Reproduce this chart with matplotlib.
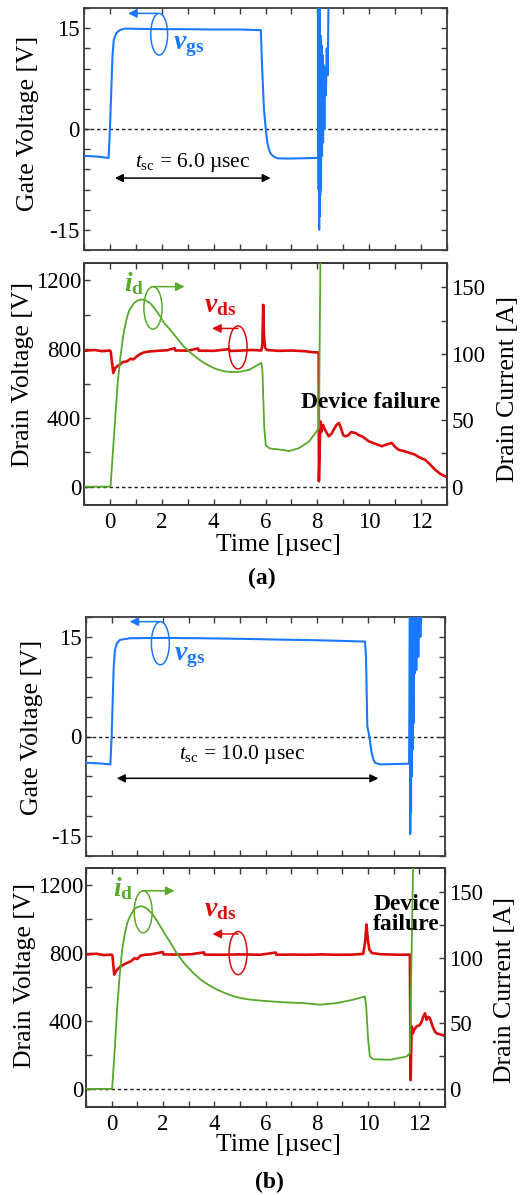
import matplotlib
matplotlib.use("Agg")
import matplotlib.pyplot as plt
from matplotlib.patches import Ellipse
from matplotlib.ticker import MultipleLocator

plt.rcParams["font.family"] = ["Liberation Serif", "DejaVu Serif"]
plt.rcParams["mathtext.fontset"] = "custom"
plt.rcParams["mathtext.rm"] = "Liberation Serif"
plt.rcParams["mathtext.it"] = "Liberation Serif:italic"
plt.rcParams["mathtext.bf"] = "Liberation Serif:bold"
plt.rcParams["mathtext.bfit"] = "Liberation Serif:italic:bold"
plt.rcParams["axes.unicode_minus"] = False

BLUE = "#1a78ff"
RED = "#dc0b0b"
GREEN = "#58a82a"

# ---- (a) t_sc = 6.0 usec : (time [usec], value)
vgs_a = [(-1.0, -4.0), (-0.5, -4.1), (-0.05, -4.3), (0.0, 0.0), (0.1, 11.0), (0.15, 13.3),
         (0.25, 14.3), (0.4, 14.75), (0.6, 14.95), (1.0, 14.9), (2.0, 14.85), (3.0, 14.85),
         (4.0, 14.8), (5.0, 14.8), (5.82, 14.7), (5.86, 10.0), (5.94, 3.0), (6.01, 0.0),
         (6.07, -2.0), (6.13, -3.0), (6.2, -3.7), (6.32, -4.1), (6.45, -4.35), (6.9, -4.4),
         (7.5, -4.35), (8.03, -4.3),
         (8.04, 19), (8.05, -9), (8.06, 19), (8.07, -15), (8.08, 19), (8.09, -13), (8.10, 17),
         (8.11, -10), (8.12, 13.9), (8.14, -9), (8.16, 12.5), (8.18, -4), (8.20, 11), (8.22, -2),
         (8.24, 9.5), (8.27, 0), (8.30, 9), (8.33, 5), (8.36, 12), (8.40, 8), (8.43, 19)]

vds_a = [(-1.0, 790), (-0.6, 795), (-0.3, 788), (0.0, 792), (0.03, 785), (0.13, 661), (0.2, 690),
         (0.28, 700), (0.4, 712), (0.5, 725), (0.66, 729), (0.8, 745), (0.9, 740), (1.04, 758),
         (1.15, 770), (1.31, 781), (1.5, 786), (1.81, 790), (2.2, 793), (2.5, 806), (2.52, 792),
         (3.0, 791), (3.4, 804), (3.42, 791), (4.0, 790), (4.6, 800), (4.62, 789), (5.1, 792),
         (5.5, 795), (5.84, 792), (5.88, 830), (5.91, 1057), (5.94, 880), (5.98, 810), (6.05, 795),
         (6.5, 790), (7.0, 792), (7.5, 788), (7.9, 781), (8.05, 781), (8.06, 33), (8.10, 290),
         (8.12, 379), (8.16, 320), (8.22, 360), (8.3, 330), (8.44, 294), (8.55, 310), (8.63, 332),
         (8.74, 360), (8.83, 371), (8.9, 345), (9.0, 300), (9.08, 294), (9.2, 300), (9.3, 318),
         (9.47, 313), (9.6, 300), (9.72, 294), (9.85, 280), (9.98, 265), (10.2, 252), (10.49, 236),
         (10.7, 248), (10.87, 255), (11.0, 232), (11.13, 216), (11.4, 205), (11.77, 187),
         (11.95, 170), (12.15, 158), (12.35, 130), (12.54, 100), (12.75, 75), (12.92, 62), (13.0, 55)]

id_a = [(-1.0, 0), (0.0, 0), (0.026, 0.5), (0.1, 22), (0.218, 55.6), (0.3, 78), (0.409, 98.2),
        (0.5, 112), (0.55, 118), (0.665, 128), (0.75, 133), (0.92, 138), (1.05, 140), (1.24, 141),
        (1.4, 140), (1.56, 138), (1.75, 133.5), (1.94, 128), (2.1, 123), (2.33, 118),
        (2.6, 111.5), (2.84, 105.7), (3.1, 101), (3.35, 97), (3.6, 93.5), (3.86, 90.7),
        (4.1, 88.5), (4.37, 87), (4.6, 86.4), (4.89, 86.2), (5.15, 87), (5.40, 88.2),
        (5.6, 90.5), (5.84, 93.2), (5.88, 88), (5.95, 45), (6.01, 31), (6.17, 28.8), (6.68, 27.6),
        (6.91, 26.8), (7.29, 29), (7.68, 34), (8.06, 44), (8.12, 175)]

# ---- (b) t_sc = 10.0 usec
vgs_b = [(-1.0, -3.95), (-0.5, -4.05), (-0.05, -4.2), (0.0, 0.0), (0.08, 10.5), (0.13, 13.05),
         (0.2, 14.0), (0.32, 14.55), (0.71, 14.8), (2.0, 14.85), (3.5, 14.8), (5.2, 14.7),
         (6.5, 14.6), (8.0, 14.5), (9.0, 14.4), (9.88, 14.3), (9.92, 12.0), (9.97, 1.55),
         (10.05, 0.0), (10.14, -2.45), (10.2, -3.4), (10.27, -3.95), (10.46, -4.2), (11.0, -4.15),
         (11.6, -4.1),
         (11.63, 19), (11.645, -14.7), (11.66, 19), (11.675, -11.5), (11.69, 19), (11.70, -6),
         (11.72, 19), (11.735, -2), (11.75, 19), (11.77, 2), (11.79, 19), (11.82, 9.5),
         (11.85, 19), (11.88, 10), (11.92, 19), (11.96, 12), (12.0, 19), (12.04, 15), (12.08, 19)]

vds_b = [(-1.0, 791), (-0.6, 796), (-0.3, 788), (0.0, 791), (0.03, 786), (0.1, 673), (0.2, 700),
         (0.35, 722), (0.5, 735), (0.74, 751), (0.9, 770), (1.0, 765), (1.13, 785), (1.3, 790),
         (1.52, 792), (2.0, 806), (2.02, 792), (2.6, 791), (3.1, 793), (3.6, 804), (3.62, 791),
         (4.2, 790), (5.0, 792), (5.8, 790), (6.4, 803), (6.42, 790), (7.0, 791), (7.6, 790),
         (8.2, 792), (8.8, 790), (9.4, 791), (9.81, 795), (9.88, 860), (9.94, 968), (9.99, 880),
         (10.05, 820), (10.15, 800), (10.5, 793), (11.0, 791), (11.3, 790), (11.63, 791),
         (11.66, 53), (11.7, 368), (11.75, 328), (11.8, 350), (11.89, 368), (12.02, 378),
         (12.1, 400), (12.15, 427), (12.22, 446), (12.28, 407), (12.35, 425), (12.41, 417),
         (12.52, 368), (12.6, 340), (12.67, 328), (12.8, 322), (12.93, 318), (13.0, 310)]

id_b = [(-1.0, 0), (0.0, 0), (0.02, 0.5), (0.12, 30), (0.22, 62.9), (0.31, 86), (0.41, 106),
        (0.5, 117), (0.61, 126.5), (0.7, 131), (0.87, 136.7), (1.0, 138.5), (1.13, 139.3),
        (1.26, 138.8), (1.39, 137.2), (1.58, 133.5), (1.78, 127.8), (2.05, 119), (2.3, 111.2),
        (2.55, 103), (2.82, 96), (3.15, 89), (3.47, 83.3), (3.8, 79), (4.12, 75.6), (4.45, 72.8),
        (4.77, 70.5), (5.1, 69), (5.42, 68), (6.0, 67), (6.72, 66), (7.47, 65.4), (8.12, 64.2),
        (8.77, 65.4), (9.42, 68), (9.88, 70.5), (9.93, 62), (10.0, 38), (10.07, 24.7),
        (10.2, 22.6), (10.86, 22.2), (11.5, 24.7), (11.63, 27.2), (11.76, 175)]

t_sc = ["6.0", "10.0"]
labels = ["(a)", "(b)"]

SPINE = "#3a3a3a"
TICK_FS = 16.5
LABEL_FS = 18.5


def xy(pairs):
    t, v = zip(*pairs)
    return list(t), list(v)


def style_x(ax, show_labels):
    ax.set_xlim(-1, 13)
    ax.xaxis.set_major_locator(MultipleLocator(2))
    ax.xaxis.set_minor_locator(MultipleLocator(1))
    ax.tick_params(axis="x", which="both", direction="in", top=True, bottom=True,
                   length=4.5, width=1, color=SPINE, labelsize=TICK_FS, pad=5,
                   labelbottom=show_labels)
    for s in ax.spines.values():
        s.set_color(SPINE)
        s.set_linewidth(1.3)


def gate_panel(ax, data, tsc_text, tsc_span, tsc_y, tsc_text_xy, ell, vlab):
    t, v = xy(data)
    ax.plot(t, v, color=BLUE, lw=1.5, zorder=3)
    ax.axhline(0, color="#222222", lw=1, ls=(0, (2.5, 2)), zorder=2)
    ax.set_ylim(-18, 18)
    style_x(ax, False)
    ax.set_yticks([-15, 0, 15])
    ax.yaxis.set_minor_locator(MultipleLocator(3))
    ax.tick_params(axis="y", which="both", direction="in", left=True, right=True,
                   length=4.5, width=1, color=SPINE, labelsize=TICK_FS, pad=3)
    ax.set_ylabel("Gate Voltage [V]", fontsize=LABEL_FS, va="center")

    # v_gs marker: ellipse + arrow to the left axis
    ex, ey, ew, eh = ell
    ax.add_patch(Ellipse((ex, ey), ew, eh, fill=False, ec=BLUE, lw=1.1, zorder=4))
    ax.annotate("", xy=(0.7, ey + eh / 2), xytext=(ex - 0.05, ey + eh / 2),
                arrowprops=dict(arrowstyle="-|>", color=BLUE, lw=1.1, shrinkA=0,
                                shrinkB=0, mutation_scale=13))
    ax.text(vlab[0], vlab[1], r"$\mathbfit{v}_{\mathbf{gs}}$", color=BLUE, fontsize=20,
            ha="center", va="center")

    # short-circuit duration
    ax.annotate("", xy=(tsc_span[0], tsc_y), xytext=(tsc_span[1], tsc_y),
                arrowprops=dict(arrowstyle="<|-|>", color="black", lw=1.1, shrinkA=0,
                                shrinkB=0, mutation_scale=12))
    ax.text(tsc_text_xy[0], tsc_text_xy[1], r"$t_{\mathrm{sc}}$ = " + tsc_text + " µsec",
            fontsize=15.5, ha="center", va="center")


def drain_panel(ax, vds, idd, id_ell, id_lab, vds_ell, vds_lab, fail_xy, fail_text, fail_fs):
    ax2 = ax.twinx()
    t, v = xy(vds)
    ax.plot(t, v, color=RED, lw=1.9, zorder=3)
    t, i = xy(idd)
    ax2.plot(t, i, color=GREEN, lw=1.3, zorder=3)
    ax.axhline(0, color="#222222", lw=1, ls=(0, (2.5, 2)), zorder=2)

    ax.set_ylim(-105, 1300)
    ax2.set_ylim(-13.8, 168.4)
    style_x(ax, True)
    ax.yaxis.set_major_locator(MultipleLocator(400))
    ax.yaxis.set_minor_locator(MultipleLocator(200))
    ax.tick_params(axis="y", which="both", direction="in", length=4.5, width=1,
                   color=SPINE, labelsize=TICK_FS, pad=2)
    ax2.yaxis.set_major_locator(MultipleLocator(50))
    ax2.yaxis.set_minor_locator(MultipleLocator(25))
    ax2.tick_params(axis="y", which="both", direction="in", length=4.5, width=1,
                    color=SPINE, labelsize=TICK_FS, pad=3)
    for s in ax2.spines.values():
        s.set_color(SPINE)
        s.set_linewidth(1.3)

    ax.set_xlabel("Time [µsec]", fontsize=LABEL_FS, va="center")
    ax.set_ylabel("Drain Voltage [V]", fontsize=LABEL_FS, va="center")
    ax2.set_ylabel("Drain Current [A]", fontsize=LABEL_FS)
    ax2.yaxis.label.set_va("center")

    # i_d marker (right axis)
    ex, ey, ew, eh = id_ell
    ax2.add_patch(Ellipse((ex, ey), ew, eh, fill=False, ec=GREEN, lw=1.1, zorder=4))
    ax2.annotate("", xy=(ex + 1.22, ey + eh / 2), xytext=(ex, ey + eh / 2),
                 arrowprops=dict(arrowstyle="-|>", color=GREEN, lw=1.1, shrinkA=0,
                                 shrinkB=0, mutation_scale=13))
    ax2.text(id_lab[0], id_lab[1], r"$\mathbfit{i}_{\mathbf{d}}$", color=GREEN, fontsize=20,
             ha="center", va="center")

    # v_ds marker (left axis)
    ex, ey, ew, eh = vds_ell
    ax.add_patch(Ellipse((ex, ey), ew, eh, fill=False, ec=RED, lw=1.1, zorder=4))
    ax.annotate("", xy=(ex - 1.0, ey + eh / 2 - 15), xytext=(ex, ey + eh / 2 - 15),
                arrowprops=dict(arrowstyle="-|>", color=RED, lw=1.1, shrinkA=0,
                                shrinkB=0, mutation_scale=13))
    ax.text(vds_lab[0], vds_lab[1], r"$\mathbfit{v}_{\mathbf{ds}}$", color=RED, fontsize=20,
            ha="center", va="center")

    ax2.text(fail_xy[0], fail_xy[1], fail_text, fontsize=fail_fs, fontweight="bold",
             ha="left", va="center", linespacing=0.95, zorder=5)
    return ax2


fig = plt.figure(figsize=(5.2, 11.95), dpi=100)
W, H = 520.0, 1195.0


def box(left, right, top, bottom):
    return [left / W, 1 - bottom / H, (right - left) / W, (bottom - top) / H]


ax_ga = fig.add_axes(box(84, 447, 8, 250))
ax_da = fig.add_axes(box(84, 447, 263, 505))
ax_gb = fig.add_axes(box(86, 445, 617, 856))
ax_db = fig.add_axes(box(86, 445, 868, 1107))

gate_panel(ax_ga, vgs_a, t_sc[0], (0.19, 6.2), -7.3, (3.2, -4.95),
           (1.9, 14.1, 0.65, 6.2), (3.05, 12.3))
gate_panel(ax_gb, vgs_b, t_sc[1], (0.2, 10.4), -6.3, (5.07, -2.7),
           (1.9, 14.05, 0.7, 6.5), (3.03, 11.9))

ax2a = drain_panel(ax_da, vds_a, id_a, (1.66, 134.6, 0.7, 32), (0.92, 152.5),
                   (4.94, 810, 0.7, 250), (4.25, 1050), (7.36, 63), "Device failure", 17)
ax2b = drain_panel(ax_db, vds_b, id_b, (1.23, 135, 0.7, 32), (0.45, 153),
                   (4.93, 800, 0.7, 254), (4.22, 1055), (10.2, 133), "Device\nfailure", 17)

# axis label placement
ax_ga.yaxis.set_label_coords(-0.153, 0.525)
ax_gb.yaxis.set_label_coords(-0.151, 0.54)
ax_da.yaxis.set_label_coords(-0.168, 0.54)
ax_db.yaxis.set_label_coords(-0.170, 0.55)
ax_da.xaxis.set_label_coords(0.537, -0.165)
ax_db.xaxis.set_label_coords(0.535, -0.159)
ax2a.yaxis.set_label_coords(1.168, 0.48)
ax2b.yaxis.set_label_coords(1.167, 0.49)

fig.text(262 / W, 1 - 578 / H, labels[0], ha="center", va="center", fontsize=17,
         fontweight="bold")
fig.text(269 / W, 1 - 1182 / H, labels[1], ha="center", va="center", fontsize=17,
         fontweight="bold")

fig.savefig("out.png", dpi=100)
